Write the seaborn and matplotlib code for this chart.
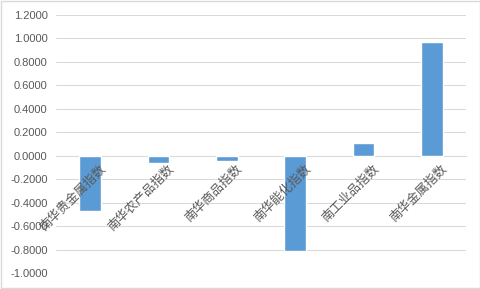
import matplotlib
matplotlib.use("Agg")
import matplotlib.pyplot as plt
import matplotlib.transforms as mtransforms
import seaborn as sns
import pandas as pd
from matplotlib.patches import Rectangle

categories = ["南华贵金属指数", "南华农产品指数", "南华商品指数", "南华能化指数", "南工业品指数", "南华金属指数"]
values = [-0.475, -0.060, -0.043, -0.810, 0.107, 0.966]
yticks = [1.2, 1.0, 0.8, 0.6, 0.4, 0.2, 0.0, -0.2, -0.4, -0.6, -0.8, -1.0]

sns.set_theme(style="white")
plt.rcParams['font.family'] = ['Liberation Sans', 'Noto Sans CJK SC', 'DejaVu Sans']

df = pd.DataFrame({"cat": categories, "val": values})

fig = plt.figure(figsize=(4.81, 2.89), dpi=100)
ax = fig.add_axes([56/481, 1-273/289, (466-56)/481, (273-15)/289])
sns.barplot(data=df, x="cat", y="val", color="#5B9BD5", width=0.32, saturation=1, ax=ax, zorder=2)

ax.set_ylim(-1.0, 1.2)
ax.set_yticks(yticks)
ax.set_yticklabels([f"{v:.4f}" for v in yticks], fontsize=8, color="#595959")
ax.yaxis.grid(True, color="#D9D9D9", linewidth=0.75)
ax.yaxis.set_zorder(0.5)
ax.xaxis.set_zorder(4)
ax.set_xlabel("")
ax.set_ylabel("")
for s in ["left", "right", "top"]:
    ax.spines[s].set_visible(False)
ax.spines["bottom"].set_position(("data", 0))
ax.spines["bottom"].set_color("#D9D9D9")
ax.spines["bottom"].set_linewidth(0.75)
ax.spines["bottom"].set_zorder(1)
ax.tick_params(axis="both", length=0, pad=6)
ax.tick_params(axis="x", pad=2)
offset = mtransforms.ScaledTranslation(9/100, -4/100, fig.dpi_scale_trans)
for lab in ax.get_xticklabels():
    lab.set_rotation(45)
    lab.set_ha("right")
    lab.set_va("top")
    lab.set_rotation_mode("anchor")
    lab.set_fontfamily(['Noto Sans CJK SC', 'DejaVu Sans'])
    lab.set_fontsize(9)
    lab.set_color("#595959")
    lab.set_transform(lab.get_transform() + offset)

fig.patches.append(Rectangle((0.002, 0.003), 0.995, 0.993, transform=fig.transFigure,
                             fill=False, edgecolor="#D9D9D9", linewidth=1))
fig.savefig("out.png", dpi=100)
